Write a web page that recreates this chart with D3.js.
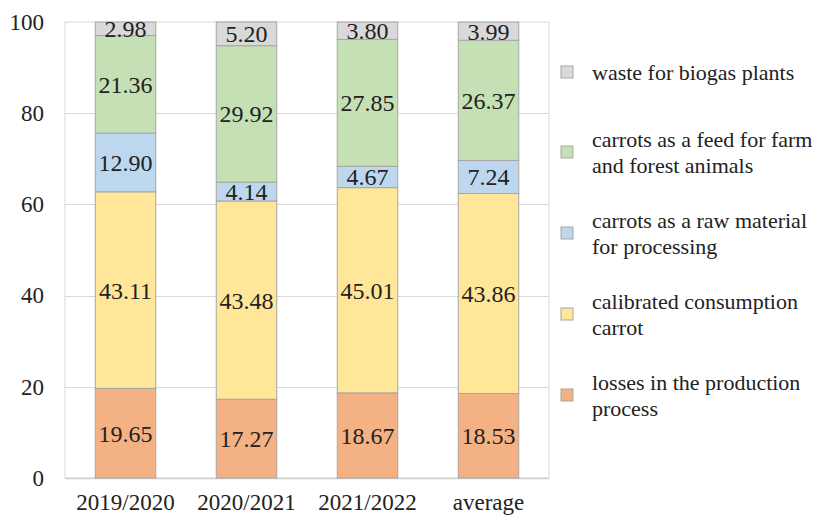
<!DOCTYPE html>
<html><head><meta charset="utf-8">
<script src="https://cdn.jsdelivr.net/npm/d3@7"></script>
</head><body style="margin:0">
<svg id="c" width="835" height="517"></svg>
<script>
const categories = ["2019/2020","2020/2021","2021/2022","average"];
const seriesNames = ["losses in the production process","calibrated consumption carrot","carrots as a raw material for processing","carrots as a feed for farm and forest animals","waste for biogas plants"];
const legendLines = [["losses in the production","process"],["calibrated consumption","carrot"],["carrots as a raw material","for processing"],["carrots as a feed for farm","and forest animals"],["waste for biogas plants"]];
const losses = [19.65,17.27,18.67,18.53];
const calibrated = [43.11,43.48,45.01,43.86];
const rawMaterial = [12.90,4.14,4.67,7.24];
const feed = [21.36,29.92,27.85,26.37];
const waste = [2.98,5.20,3.80,3.99];
const colors = ["#F4B183","#FFE699","#BDD7EE","#C5E0B4","#D9D9D9"];
const yTicks = [0,20,40,60,80,100];

const FONT = "Liberation Serif";
const seriesVals = [losses,calibrated,rawMaterial,feed,waste];
const rows = categories.map((c,i)=>{const r={cat:c};seriesNames.forEach((s,k)=>r[s]=seriesVals[k][i]);return r;});
const stacked = d3.stack().keys(seriesNames)(rows);

const svg = d3.select("#c");
const L=65,R=549,T=22,B=478;
const x = d3.scaleBand().domain(categories).range([L,R]).paddingInner(0.5).paddingOuter(0.25);
const y = d3.scaleLinear().domain([0,100]).range([B,T]);

svg.append("rect").attr("x",L).attr("y",T).attr("width",R-L).attr("height",B-T).attr("fill","none").attr("stroke","#d9d9d9").attr("stroke-width",1);
svg.append("g").selectAll("line").data(yTicks.slice(1,-1)).join("line")
  .attr("x1",L).attr("x2",R).attr("y1",d=>Math.round(y(d))+0.5).attr("y2",d=>Math.round(y(d))+0.5)
  .attr("stroke","#d9d9d9");
svg.append("line").attr("x1",L).attr("x2",R).attr("y1",B+0.5).attr("y2",B+0.5).attr("stroke","#d0d0d0").attr("stroke-width",1.5);

function styleText(sel,size){
  sel.attr("font-family",FONT).style("font-family",FONT).attr("font-size",size).attr("fill","#222");
}

const yAxis = d3.axisLeft(y).tickValues(yTicks).tickSize(0).tickPadding(0);
const ya = svg.append("g").attr("transform",`translate(${L-21},0)`).call(yAxis);
ya.select(".domain").remove();
ya.attr("font-family",FONT);
styleText(ya.selectAll("text"),23);

const xAxis = d3.axisBottom(x).tickSize(0).tickPadding(0);
const xa = svg.append("g").attr("transform",`translate(0,${B+16})`).call(xAxis);
xa.select(".domain").remove();
xa.attr("font-family",FONT);
styleText(xa.selectAll("text"),23);

const g = svg.append("g");
stacked.forEach((s,k)=>{
  g.append("g").selectAll("rect").data(s).join("rect")
    .attr("x",d=>x(d.data.cat)).attr("width",x.bandwidth())
    .attr("y",d=>y(d[1])).attr("height",d=>y(d[0])-y(d[1]))
    .attr("fill",colors[k]).attr("stroke","#a6a6a6").attr("stroke-width",1);
});
stacked.forEach((s,k)=>{
  const t = g.append("g").selectAll("text").data(s).join("text")
    .attr("x",d=>x(d.data.cat)+x.bandwidth()/2)
    .attr("y",d=>(y(d[0])+y(d[1]))/2)
    .attr("dy","0.35em").attr("text-anchor","middle")
    .text(d=>(d[1]-d[0]).toFixed(2));
  styleText(t,24);
});

const legY = [395,314,233,152,72];
const lg = svg.append("g");
seriesNames.forEach((s,k)=>{
  const cy = legY[k];
  lg.append("rect").attr("x",561).attr("y",cy-6).attr("width",12).attr("height",12)
    .attr("fill",colors[k]).attr("stroke","#a6a6a6");
  const lines = legendLines[k];
  const t = lg.append("text");
  styleText(t,22);
  lines.forEach((ln,i)=>{
    t.append("tspan").attr("x",592).attr("y",cy+(i-(lines.length-1)/2)*26).attr("dy","0.35em").text(ln);
  });
});
</script>
</body></html>
